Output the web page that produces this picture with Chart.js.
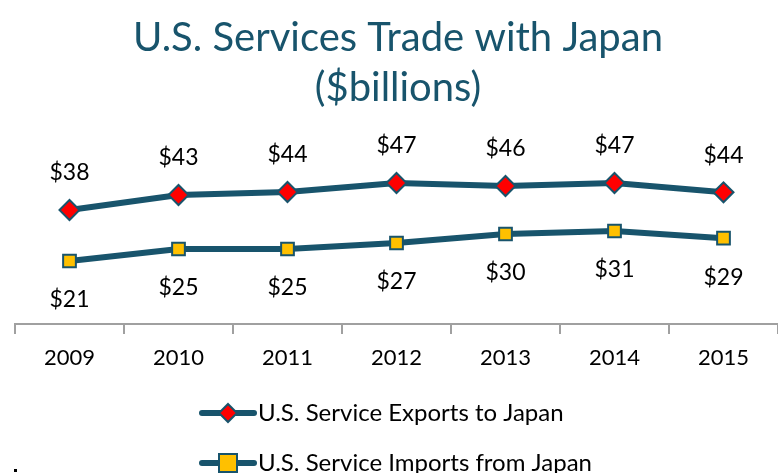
<!DOCTYPE html>
<html>
<head>
<meta charset="utf-8">
<script src="https://cdn.jsdelivr.net/npm/chart.js@4"></script>
<style>
  html, body { margin: 0; padding: 0; background: #fff; overflow: hidden; }
  #wrap { position: relative; width: 790px; height: 473px; }
</style>
</head>
<body>
<div id="wrap"><canvas id="chart" width="790" height="473"></canvas></div>
<script>
const years = ["2009", "2010", "2011", "2012", "2013", "2014", "2015"];
const exportsJapan = [38, 43, 44, 47, 46, 47, 43.9];
const importsJapan = [21, 25, 25, 27, 30, 31, 28.6];
const seriesNames = ["U.S. Service Exports to Japan", "U.S. Service Imports from Japan"];
const titleLines = ["U.S. Services Trade with Japan", "($billions)"];

const teal = "#18546C";
const fontName = "Lato, 'Open Sans', sans-serif";

// value labels above / below the markers
const labelPlugin = {
    id: "valueLabels",
    afterDatasetsDraw(chart) {
        const ctx = chart.ctx;
        ctx.save();
        ctx.font = "23px " + fontName;
        ctx.fillStyle = "#000";
        ctx.textAlign = "center";
        ctx.textBaseline = "middle";
        chart.data.datasets.forEach((ds, i) => {
            const meta = chart.getDatasetMeta(i);
            meta.data.forEach((pt, j) => {
                const dy = i === 0 ? -37 : 39;
                ctx.fillText("$" + Math.round(ds.data[j]), pt.x, pt.y + dy);
            });
        });
        ctx.restore();
    }
};

function drawMarker(ctx, style, x, y) {
    ctx.lineWidth = 2;
    ctx.strokeStyle = teal;
    if (style === "rectRot") {
        ctx.fillStyle = "#FF0000";
        ctx.beginPath();
        ctx.moveTo(x, y - 9);
        ctx.lineTo(x + 9, y);
        ctx.lineTo(x, y + 9);
        ctx.lineTo(x - 9, y);
        ctx.closePath();
    } else {
        ctx.fillStyle = "#FFC000";
        ctx.beginPath();
        ctx.rect(x - 9, y - 9, 18, 18);
    }
    ctx.fill();
    ctx.stroke();
}

// title and two-row legend
const decorPlugin = {
    id: "decor",
    afterDraw(chart) {
        const ctx = chart.ctx;
        ctx.save();
        ctx.fillStyle = teal;
        ctx.font = "40px " + fontName;
        ctx.textAlign = "center";
        ctx.textBaseline = "middle";
        ctx.fillText(titleLines[0], 398, 38);
        ctx.fillText(titleLines[1], 398, 88);

        const rows = [413, 463];
        chart.data.datasets.forEach((ds, i) => {
            const y = rows[i];
            ctx.strokeStyle = teal;
            ctx.lineWidth = 6;
            ctx.lineCap = "round";
            ctx.beginPath();
            ctx.moveTo(202, y);
            ctx.lineTo(254, y);
            ctx.stroke();
            drawMarker(ctx, ds.pointStyle, 228, y);
            ctx.fillStyle = "#000";
            ctx.font = "24px " + fontName;
            ctx.textAlign = "left";
            ctx.fillText(ds.label, 258, y);
        });
        ctx.fillStyle = "#000";
        ctx.fillRect(14, 469, 3, 3);
        ctx.restore();
    }
};

new Chart(document.getElementById("chart"), {
    type: "line",
    data: {
        labels: years,
        datasets: [
            {
                label: seriesNames[0],
                data: exportsJapan,
                borderColor: teal,
                borderWidth: 6,
                pointStyle: "rectRot",
                pointRadius: 10,
                pointBackgroundColor: "#FF0000",
                pointBorderColor: teal,
                pointBorderWidth: 2
            },
            {
                label: seriesNames[1],
                data: importsJapan,
                borderColor: teal,
                borderWidth: 6,
                pointStyle: "rect",
                pointRadius: 9,
                pointBackgroundColor: "#FFC000",
                pointBorderColor: teal,
                pointBorderWidth: 2
            }
        ]
    },
    options: {
        responsive: false,
        animation: false,
        layout: { padding: { top: 144, left: 15, right: 9, bottom: 89 } },
        plugins: {
            legend: { display: false },
            title: { display: false },
            tooltip: { enabled: false }
        },
        scales: {
            x: {
                offset: true,
                afterFit: (s) => { s.height = 60; },
                grid: {
                    offset: true,
                    drawOnChartArea: false,
                    tickLength: 10,
                    color: "#A0A0A0",
                    lineWidth: 2
                },
                border: { color: "#A0A0A0", width: 2 },
                ticks: {
                    color: "#000",
                    font: { family: fontName, size: 22 },
                    padding: 11
                }
            },
            y: {
                display: false,
                min: 0,
                max: 60
            }
        }
    },
    plugins: [labelPlugin, decorPlugin]
});
</script>
</body>
</html>
